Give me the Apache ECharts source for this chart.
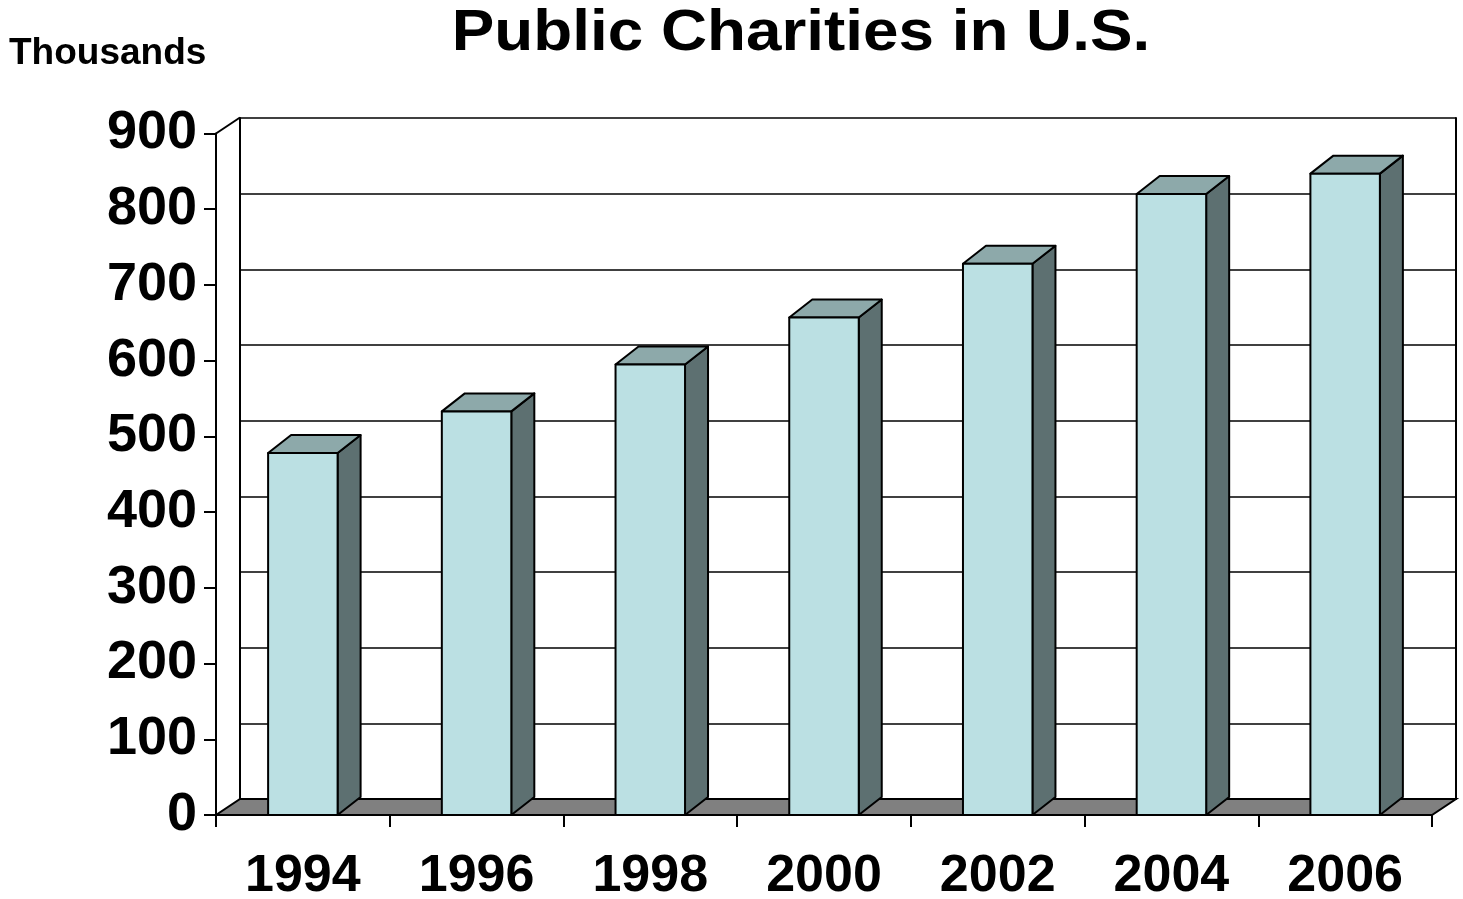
<!DOCTYPE html>
<html>
<head>
<meta charset="utf-8">
<script src="https://cdn.jsdelivr.net/npm/echarts@6/dist/echarts.min.js"></script>
<style>
  html, body { margin: 0; padding: 0; background: #ffffff; }
  #chart { width: 1463px; height: 899px; }
</style>
</head>
<body>
<div id="chart"></div>
<script>
// ---- data ----
const years = ['1994', '1996', '1998', '2000', '2002', '2004', '2006'];
const charities = [478, 533, 595, 657, 728, 820, 847];
const yTickLabels = ['0', '100', '200', '300', '400', '500', '600', '700', '800', '900'];
const titleText = 'Public Charities in U.S.';
const unitText = 'Thousands';

// ---- styles ----
const FONT = '"Liberation Sans", Arial, Helvetica, sans-serif';
const FRONT = '#BBE0E3';
const TOP = '#8DA9AA';
const SIDE = '#5D7071';
const FLOOR = '#808080';
const BAR_DX = 23, BAR_DY = -18;
const WALL_DX = 24, WALL_DY = -16;
const BAR_RATIO = 0.4;

const chart = echarts.init(document.getElementById('chart'), null, { renderer: 'canvas' });

const yMax = Number(yTickLabels[yTickLabels.length - 1]);

const option = {
  backgroundColor: '#ffffff',
  animation: false,
  graphic: [
    {
      type: 'text', x: 801, y: 5, scaleX: 1.1, z: 10,
      style: { text: titleText, font: 'bold 58px ' + FONT, fill: '#000', textAlign: 'center', textVerticalAlign: 'top' }
    },
    {
      type: 'text', x: 9, y: 35, z: 10,
      style: { text: unitText, font: 'bold 37px ' + FONT, fill: '#000' }
    }
  ],
  grid: [
    { left: 216, right: 31, top: 133.5, bottom: 84, containLabel: false, outerBoundsMode: 'none' },
    { left: 240, right: 7, top: 118, bottom: 100, containLabel: false, outerBoundsMode: 'none' }
  ],
  xAxis: [
    {
      gridIndex: 0, type: 'category', data: years, boundaryGap: true,
      axisLine: { show: true, lineStyle: { color: '#000', width: 2 } },
      axisTick: { show: true, length: 12, inside: false, alignWithLabel: false, lineStyle: { color: '#000', width: 2 } },
      axisLabel: { show: true, margin: 36, color: '#000', fontSize: 52, fontWeight: 'bold', fontFamily: FONT },
      splitLine: { show: false },
      z: 5
    },
    {
      gridIndex: 1, type: 'category', data: years, boundaryGap: true,
      axisLine: { show: false }, axisTick: { show: false }, axisLabel: { show: false }, splitLine: { show: false }
    }
  ],
  yAxis: [
    {
      gridIndex: 0, type: 'value', min: 0, max: yMax, interval: 100,
      axisLine: { show: true, lineStyle: { color: '#000', width: 2 } },
      axisTick: { show: true, length: 12, lineStyle: { color: '#000', width: 2 } },
      axisLabel: {
        show: true, margin: 19, color: '#000', fontSize: 54, fontWeight: 'bold', fontFamily: FONT,
        formatter: function (v) { const i = yTickLabels.indexOf(String(v)); return i >= 0 ? yTickLabels[i] : ''; }
      },
      splitLine: { show: false },
      z: 5
    },
    {
      gridIndex: 1, type: 'value', min: 0, max: yMax, interval: 100,
      axisLine: { show: true, lineStyle: { color: '#000', width: 2 } },
      axisTick: { show: false }, axisLabel: { show: false },
      splitLine: { show: true, lineStyle: { color: '#000', width: 1.5 } }
    },
    {
      gridIndex: 1, type: 'value', min: 0, max: yMax, interval: 100, position: 'right',
      axisLine: { show: true, onZero: false, lineStyle: { color: '#000', width: 2 } },
      axisTick: { show: false }, axisLabel: { show: false }, splitLine: { show: false }
    }
  ],
  series: [
    {
      type: 'custom', name: 'floor', xAxisIndex: 0, yAxisIndex: 0, z: 3, silent: true,
      data: [[0, 0]],
      renderItem: function (params, api) {
        const band = api.size([1, 0])[0];
        const p0 = api.coord([0, 0]);
        const pN = api.coord([years.length - 1, 0]);
        const pT = api.coord([0, yMax]);
        const xl = p0[0] - band / 2, xr = pN[0] + band / 2, y0 = p0[1];
        return {
          type: 'group',
          children: [
            {
              type: 'polygon',
              shape: { points: [[xl, y0], [xr, y0], [xr + WALL_DX, y0 + WALL_DY], [xl + WALL_DX, y0 + WALL_DY]] },
              style: { fill: FLOOR, stroke: '#000', lineWidth: 2 }
            },
            {
              type: 'line',
              shape: { x1: xl, y1: pT[1], x2: xl + WALL_DX, y2: pT[1] + WALL_DY },
              style: { stroke: '#000', lineWidth: 2 }
            }
          ]
        };
      }
    },
    {
      type: 'custom', name: 'Public Charities', xAxisIndex: 0, yAxisIndex: 0, z: 4,
      encode: { x: 0, y: 1 },
      data: charities.map(function (v, i) { return [i, v]; }),
      renderItem: function (params, api) {
        const i = api.value(0), v = api.value(1);
        const base = api.coord([i, 0]);
        const top = api.coord([i, v]);
        const band = api.size([1, 0])[0];
        const w = band * BAR_RATIO;
        const x0 = base[0] - w / 2, x1 = base[0] + w / 2, y0 = base[1], yt = top[1];
        const st = { stroke: '#000', lineWidth: 2, lineJoin: 'round' };
        return {
          type: 'group',
          children: [
            {
              type: 'polygon',
              shape: { points: [[x1, yt], [x1 + BAR_DX, yt + BAR_DY], [x1 + BAR_DX, y0 + BAR_DY], [x1, y0]] },
              style: Object.assign({ fill: SIDE }, st)
            },
            {
              type: 'polygon',
              shape: { points: [[x0, yt], [x1, yt], [x1 + BAR_DX, yt + BAR_DY], [x0 + BAR_DX, yt + BAR_DY]] },
              style: Object.assign({ fill: TOP }, st)
            },
            {
              type: 'rect',
              shape: { x: x0, y: yt, width: w, height: y0 - yt },
              style: Object.assign({ fill: FRONT }, st)
            }
          ]
        };
      }
    }
  ]
};

chart.setOption(option);
</script>
</body>
</html>
